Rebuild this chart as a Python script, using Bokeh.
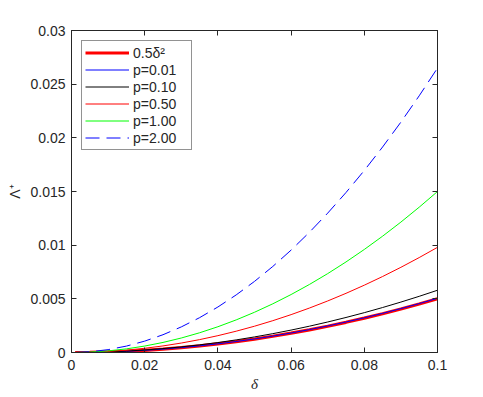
from bokeh.plotting import figure
from bokeh.models import LinearAxis, Range1d, FixedTicker, Legend, LegendItem
from bokeh.embed import file_html
from bokeh.resources import INLINE

delta = [0.001, 0.005, 0.01, 0.015, 0.02, 0.025, 0.03, 0.035, 0.04, 0.045, 0.05,
         0.055, 0.06, 0.065, 0.07, 0.075, 0.08, 0.085, 0.09, 0.095, 0.1]
half_delta_sq = [0.0000005, 0.0000125, 0.00005, 0.0001125, 0.0002, 0.0003125, 0.00045, 0.0006125,
                 0.0008, 0.0010125, 0.00125, 0.0015125, 0.0018, 0.0021125, 0.00245, 0.0028125,
                 0.0032, 0.0036125, 0.00405, 0.0045125, 0.005]
p001 = [0.0000005, 0.0000126, 0.0000505, 0.0001136, 0.000202, 0.0003156, 0.0004545, 0.0006186,
        0.000808, 0.0010226, 0.0012625, 0.0015276, 0.001818, 0.0021336, 0.0024745, 0.0028406,
        0.003232, 0.0036486, 0.0040905, 0.0045576, 0.00505]
p010 = [0.0000006, 0.0000145, 0.000058, 0.0001305, 0.000232, 0.0003625, 0.000522, 0.0007105,
        0.000928, 0.0011745, 0.00145, 0.0017545, 0.002088, 0.0024505, 0.002842, 0.0032625,
        0.003712, 0.0041905, 0.004698, 0.0052345, 0.0058]
p050 = [0.000001, 0.0000245, 0.000098, 0.0002205, 0.000392, 0.0006125, 0.000882, 0.0012005,
        0.001568, 0.0019845, 0.00245, 0.0029645, 0.003528, 0.0041405, 0.004802, 0.0055125,
        0.006272, 0.0070805, 0.007938, 0.0088445, 0.0098]
p100 = [0.0000015, 0.0000375, 0.00015, 0.0003375, 0.0006, 0.0009375, 0.00135, 0.0018375,
        0.0024, 0.0030375, 0.00375, 0.0045375, 0.0054, 0.0063375, 0.00735, 0.0084375,
        0.0096, 0.0108375, 0.01215, 0.0135375, 0.015]
p200 = [0.0000027, 0.0000663, 0.000265, 0.0005963, 0.00106, 0.0016563, 0.002385, 0.0032463,
        0.00424, 0.0053663, 0.006625, 0.0080163, 0.00954, 0.0111963, 0.012985, 0.0149063,
        0.01696, 0.0191463, 0.021465, 0.0239163, 0.0265]

x_ticks = [0, 0.02, 0.04, 0.06, 0.08, 0.1]
x_labels = ["0", "0.02", "0.04", "0.06", "0.08", "0.1"]
y_ticks = [0, 0.005, 0.01, 0.015, 0.02, 0.025, 0.03]
y_labels = ["0", "0.005", "0.01", "0.015", "0.02", "0.025", "0.03"]

FONT = "Liberation Sans"
AX = "#262626"

p = figure(width=483, height=397, output_backend="svg", toolbar_location=None,
           x_range=Range1d(0, 0.1), y_range=Range1d(0, 0.03),
           min_border_left=71, min_border_right=46, min_border_top=30, min_border_bottom=45,
           x_axis_label="δ", y_axis_label="Λ⁺")
p.grid.visible = False
p.outline_line_color = AX
p.background_fill_color = "white"
p.border_fill_color = "white"

def style_axis(ax, labels=True):
    ax.axis_line_color = AX
    ax.major_tick_line_color = AX
    ax.major_tick_in = 5
    ax.major_tick_out = 0
    ax.minor_tick_line_color = None
    ax.major_label_text_font = FONT
    ax.major_label_text_font_size = "14px"
    ax.major_label_text_color = AX
    ax.axis_label_text_font = FONT
    ax.axis_label_text_font_size = "14px"
    ax.axis_label_text_color = AX
    ax.axis_label_text_font_style = "normal"
    if not labels:
        ax.major_label_text_color = None

style_axis(p.xaxis[0])
style_axis(p.yaxis[0])
p.xaxis[0].ticker = FixedTicker(ticks=x_ticks)
p.xaxis[0].major_label_overrides = dict(zip(x_ticks, x_labels))
p.yaxis[0].ticker = FixedTicker(ticks=y_ticks)
p.yaxis[0].major_label_overrides = dict(zip(y_ticks, y_labels))
p.xaxis[0].axis_label_text_font_style = "italic"
p.xaxis[0].axis_label_text_font = "Liberation Serif"
p.xaxis[0].axis_label_text_font_size = "15px"
p.xaxis[0].axis_label_standoff = 3
p.xaxis[0].major_label_standoff = 7
p.yaxis[0].major_label_standoff = 6
p.yaxis[0].axis_label_standoff = 4

top = LinearAxis(ticker=FixedTicker(ticks=x_ticks))
right = LinearAxis(ticker=FixedTicker(ticks=y_ticks))
style_axis(top, labels=False)
style_axis(right, labels=False)
top.major_label_standoff = 0
right.major_label_standoff = 0
p.add_layout(top, "above")
p.add_layout(right, "right")

r0 = p.line(delta, half_delta_sq, line_color="red", line_width=3.2)
r1 = p.line(delta, p001, line_color="blue", line_width=1)
r2 = p.line(delta, p010, line_color="black", line_width=1)
r3 = p.line(delta, p050, line_color="red", line_width=1)
r4 = p.line(delta, p100, line_color="lime", line_width=1)
r5 = p.line(delta, p200, line_color="blue", line_width=1, line_dash="14 7")

legend = Legend(items=[
    LegendItem(label="0.5δ²", renderers=[r0]),
    LegendItem(label="p=0.01", renderers=[r1]),
    LegendItem(label="p=0.10", renderers=[r2]),
    LegendItem(label="p=0.50", renderers=[r3]),
    LegendItem(label="p=1.00", renderers=[r4]),
    LegendItem(label="p=2.00", renderers=[r5]),
], location="top_left")
legend.margin = 10
legend.padding = 3
legend.spacing = 0
legend.glyph_width = 44
legend.glyph_height = 17
legend.label_height = 17
legend.label_width = 55
legend.label_standoff = 4
legend.label_text_font = FONT
legend.label_text_font_size = "14px"
legend.label_text_color = AX
legend.border_line_color = AX
legend.border_line_width = 1
legend.background_fill_color = "white"
legend.background_fill_alpha = 1
p.add_layout(legend, "center")

open("out.html", "w").write(file_html(p, INLINE))
